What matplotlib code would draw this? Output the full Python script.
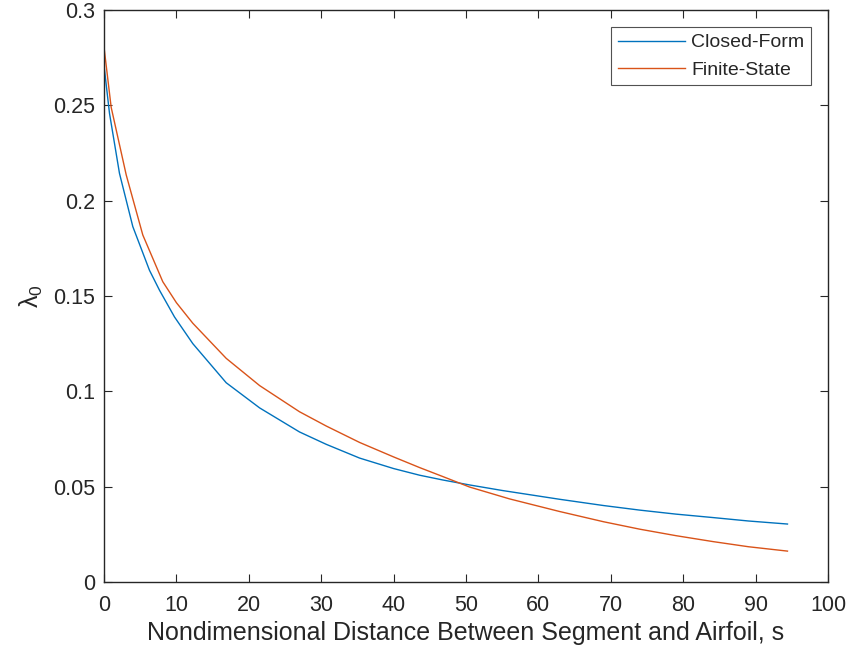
import matplotlib
matplotlib.use("Agg")
import matplotlib.pyplot as plt

# data
s_closed = [0, 0.76, 2.14, 3.98, 6.28, 7.67, 9.74, 12.27, 16.88, 21.5, 27.0, 30.7,
            35.3, 40, 43.6, 46.8, 50.5, 55, 62.9, 69, 74, 79, 84.1, 89, 94.4]
lam_closed = [0.271, 0.2458, 0.2143, 0.1864, 0.1635, 0.1530, 0.1390, 0.1250, 0.1045,
              0.0913, 0.0787, 0.0722, 0.0650, 0.0595, 0.0560, 0.0535, 0.0509, 0.0480,
              0.0434, 0.0401, 0.0377, 0.0356, 0.0338, 0.0320, 0.0304]

s_finite = [0, 0.99, 3.07, 5.36, 8.12, 10, 12.27, 16.88, 21.5, 27.0, 30.7, 35.3, 40,
            43.6, 46.8, 50.5, 56, 62.9, 69, 74, 79, 84.1, 89, 94.4]
lam_finite = [0.2806, 0.2490, 0.2135, 0.1820, 0.1575, 0.1465, 0.1357, 0.1173, 0.1030,
              0.0893, 0.0818, 0.0732, 0.0656, 0.0600, 0.0553, 0.0498, 0.0436, 0.0370,
              0.0316, 0.0277, 0.0243, 0.0212, 0.0185, 0.0162]

xticks = list(range(0, 101, 10))
yticks = [0, 0.05, 0.1, 0.15, 0.2, 0.25, 0.3]
ytick_labels = ['0', '0.05', '0.1', '0.15', '0.2', '0.25', '0.3']

plt.rcParams['font.family'] = ['Liberation Sans', 'DejaVu Sans']
plt.rcParams['mathtext.fontset'] = 'custom'
plt.rcParams['mathtext.rm'] = 'Liberation Sans'
plt.rcParams['mathtext.it'] = 'Liberation Sans'
plt.rcParams['mathtext.default'] = 'regular'

axc = '#262626'
fig = plt.figure(figsize=(8.51, 6.58), dpi=100)
ax = fig.add_axes([0.1222, 0.1155, 0.973 - 0.1222, 0.9848 - 0.1155])

ax.plot(s_closed, lam_closed, color='#0072BD', lw=1.0, label='Closed-Form')
ax.plot(s_finite, lam_finite, color='#D95319', lw=1.0, label='Finite-State')

ax.set_xlim(0, 100)
ax.set_ylim(0, 0.3)
ax.set_xticks(xticks)
ax.set_yticks(yticks)
ax.set_yticklabels(ytick_labels)
ax.tick_params(direction='in', length=6, width=0.8, top=True, right=True,
               labelsize=15.5, colors=axc)
ax.tick_params(axis='x', pad=9)
ax.tick_params(axis='y', pad=6.5)
for sp in ax.spines.values():
    sp.set_color(axc)
    sp.set_linewidth(1.0)

ax.set_xlabel('Nondimensional Distance Between Segment and Airfoil, s',
              fontsize=18, color=axc, labelpad=4)
ax.set_ylabel('$\\lambda_0$', fontsize=18, color=axc, labelpad=6)

leg = ax.legend(loc='upper right', fontsize=14, frameon=True, fancybox=False,
                handlelength=3.45, handletextpad=0.3, borderaxespad=0.87,
                borderpad=0.35, labelspacing=0.5)
leg.get_frame().set_edgecolor(axc)
leg.get_frame().set_linewidth(0.8)
for t in leg.get_texts():
    t.set_color(axc)

fig.savefig('out.png', dpi=100)
